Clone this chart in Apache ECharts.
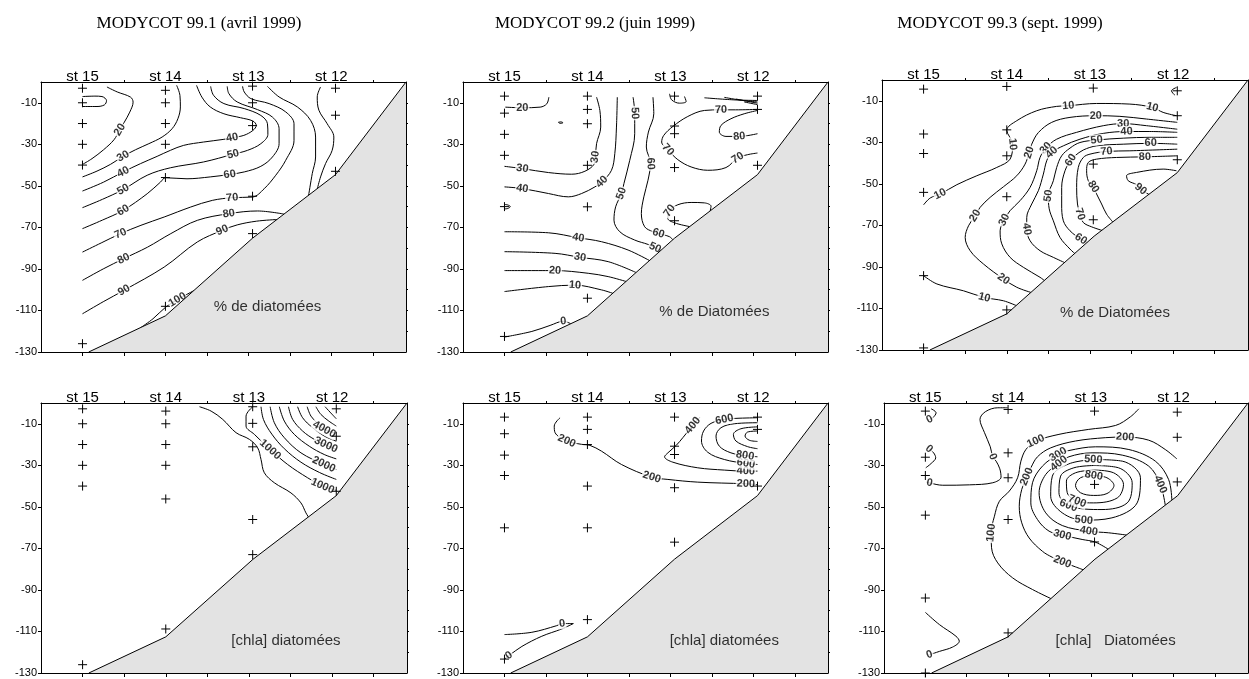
<!DOCTYPE html>
<html><head><meta charset="utf-8">
<script src="https://cdn.jsdelivr.net/npm/echarts@6/dist/echarts.min.js"></script>
<style>html,body{margin:0;padding:0;background:#fff}#c{width:1249px;height:679px}</style>
</head><body><div id="c"></div>
<script>
// ---- axes / labels ----
const xMin = 0, xMax = 8.8, yMin = -130, yMax = 0;
const stationNames = ['st 15', 'st 14', 'st 13', 'st 12'];
const stationX = [1, 3, 5, 7];
const xTickValues = [1, 2, 3, 4, 5, 6, 7, 8];
const xTopTickValues = [2, 4, 6, 8];
const yTickValues = [-130, -110, -90, -70, -50, -30, -10];
const yMinorValues = [-120, -110, -100, -90, -80, -70, -60, -50, -40, -30, -20, -10];
const titles = ['MODYCOT 99.1 (avril 1999)', 'MODYCOT 99.2 (juin 1999)', 'MODYCOT 99.3 (sept. 1999)'];
const panelNotes = ['% de diatomées', '% de Diatomées', '% de Diatomées', '[chla] diatomées', '[chla] diatomées', '[chla]   Diatomées'];

// ---- bottom profile (distance, depth) ----
const bottomX = [1.15, 3.0, 5.1, 7.1, 8.8];
const bottomY = [-130, -112.6, -75.2, -44.6, 0];

// ---- sampling points (distance, depth) ----
const samples1 = [[1,-3],[1,-10],[1,-20],[1,-30],[1,-40],[1,-126],[3,-4],[3,-10],[3,-20],[3,-30],[3,-46],[3,-108],[5.1,-2],[5.1,-10],[5.1,-21],[5.1,-55],[5.1,-73],[7.1,-3],[7.1,-16],[7.1,-43]];
const samples2 = [[1,-6.8],[1,-15],[1,-25.2],[1,-35.3],[1,-60],[1,-122.5],[3,-6.8],[3,-13.2],[3,-20.1],[3,-40.1],[3,-60.1],[3,-104.1],[5.1,-6.8],[5.1,-21.2],[5.1,-24.9],[5.1,-41.2],[5.1,-66.8],[7.1,-6.8],[7.1,-13.2],[7.1,-40.1]];
const samples3 = [[1,-4.4],[1,-26],[1,-35.4],[1,-54.1],[1,-94.2],[1,-129],[3,-3.1],[3,-24],[3,-36.5],[3,-56.2],[3,-110.7],[5.08,-3.9],[5.08,-40.5],[5.08,-67.3],[7.1,-5.2],[7.1,-17.2],[7.1,-38.4]];
const samples4 = [[1,-2.8],[1,-10],[1,-20],[1,-30],[1,-40],[1,-126],[3,-3.9],[3,-10],[3,-20],[3,-30],[3,-46.2],[3,-108.8],[5.09,-1.8],[5.09,-9.8],[5.09,-21.1],[5.09,-56.1],[5.09,-73],[7.1,-2.8],[7.1,-16],[7.1,-42.5]];
const samples5 = [[1,-6.8],[1,-14.8],[1,-25.1],[1,-34.9],[1,-60.1],[1,-123.3],[3,-6.8],[3,-12.7],[3,-20],[3,-40],[3,-60.1],[3,-104.3],[5.1,-6.8],[5.1,-20.8],[5.1,-24.8],[5.1,-40.8],[5.1,-67],[7.1,-6.8],[7.1,-12.7],[7.1,-40]];
const samples6 = [[1,-3.9],[1,-26.1],[1,-34.9],[1,-54],[1,-93.9],[1,-130],[3,-3.1],[3,-24],[3,-36],[3,-56.1],[3,-110.7],[5.09,-3.9],[5.09,-39.2],[5.09,-66.9],[7.09,-4.4],[7.09,-16.5],[7.09,-38]];

// ---- contour lines: [level, points (distance, depth), indices of labelled points] ----
const contours1 = [
  [10, [[1.0,-7],[1.3,-6.8],[1.47,-7],[1.58,-9],[1.53,-11],[1.35,-11.8],[1.0,-11.8]], []],
  [20, [[1.59,-2.4],[1.84,-4.8],[2.16,-7.3],[2.22,-9.7],[2.14,-14.5],[2.01,-19.3],[1.90,-23],[1.76,-27.8],[1.51,-32.6],[1.23,-36.9],[1.0,-39.7]], [6]],
  [30, [[3.27,-1.6],[3.35,-6.5],[3.36,-12],[3.30,-17.7],[3.16,-22.5],[2.92,-26.5],[2.60,-29.7],[2.28,-32.6],[1.98,-35.8],[1.68,-39.6],[1.35,-42.9],[1.0,-45.7]], [8]],
  [40, [[1.0,-52.5],[1.51,-48.2],[1.98,-43.3],[2.40,-39.3],[2.80,-35.8],[3.12,-32.9],[3.44,-30.5],[3.92,-28.9],[4.41,-27.6],[4.61,-26.8],[4.89,-25.7],[5.11,-23.3],[5.19,-20.9],[5.11,-18.8],[4.81,-17.2],[4.41,-15.3],[4.08,-12],[3.88,-7.3],[3.75,-1.6]], [2,9]],
  [50, [[1.0,-60.5],[1.48,-56.5],[1.98,-51.8],[2.56,-44.9],[3.12,-41.3],[3.92,-38.5],[4.63,-34.8],[4.98,-32.9],[5.30,-29.7],[5.47,-25.2],[5.46,-20.1],[5.30,-16.1],[4.90,-12.8],[4.41,-10.4],[4.16,-6.4],[4.09,-2.1]], [2,6]],
  [60, [[1.0,-70.6],[1.48,-66.5],[1.98,-61.8],[2.56,-53.8],[2.88,-48.2],[3.0,-46.1],[3.52,-46.6],[4.08,-45.7],[4.55,-44.5],[4.9,-43.3],[5.30,-40.6],[5.58,-36.1],[5.74,-29.7],[5.74,-22.5],[5.58,-16.9],[5.22,-13.3],[4.73,-9.6],[4.53,-5.6],[4.49,-2.1]], [2,8]],
  [70, [[1.0,-81.9],[1.45,-77.5],[1.92,-73],[2.41,-69],[2.97,-65],[3.61,-60.2],[4.13,-57],[4.61,-55.7],[5.10,-55.4],[5.38,-51.4],[5.66,-44.9],[5.90,-37.7],[6.10,-28.1],[6.10,-20.1],[5.90,-14.4],[5.50,-10.4],[5.06,-8],[4.9,-4.8],[4.86,-2.1]], [2,7]],
  [80, [[1.0,-95.5],[1.5,-90],[1.99,-85.1],[2.57,-79.5],[3.13,-73],[3.77,-66.6],[4.53,-63.4],[5.22,-62.1],[5.86,-63.6]], [2,6]],
  [80, [[5.46,-2.1],[5.74,-7.2],[6.18,-12],[6.50,-18.5],[6.62,-26.5],[6.62,-36.1],[6.54,-44.1],[6.45,-54.8]], []],
  [90, [[1.0,-111.6],[1.5,-105.8],[2.0,-100.3],[2.97,-89.1],[3.77,-77],[4.37,-71.4],[4.73,-68.8],[5.2,-67],[5.7,-66.2]], [2,5]],
  [100, [[2.41,-118.2],[2.7,-114],[3.0,-108.5],[3.29,-104.8],[3.69,-100.4]], [3]],
  [70, [[6.74,-2.4],[6.66,-7.2],[6.70,-13.6],[6.90,-20.1],[7.06,-26.5],[7.02,-32.9],[6.86,-39.3],[6.74,-45.7],[6.66,-51.6]], []]
];
const contours2 = [
  [20, [[1.02,-12.1],[1.43,-12.4],[1.86,-12.1],[2.02,-10.5],[2.07,-7.3]], [1]],
  [20, [[2.3,-19.4],[2.36,-19.2],[2.41,-19.6],[2.34,-19.9],[2.3,-19.4]], []],
  [30, [[1.0,-40.6],[1.43,-41.7],[2.06,-43.6],[2.62,-44.4],[2.94,-42.96],[3.16,-39.6],[3.19,-36.1],[3.22,-29.7],[3.32,-21.7],[3.3,-13.7],[3.22,-7.3]], [1,6]],
  [40, [[1.0,-50.5],[1.43,-51.3],[2.06,-53.7],[2.54,-55.3],[2.86,-53.7],[3.18,-50.5],[3.35,-48.1],[3.58,-42.5],[3.66,-34.5],[3.70,-21.7],[3.72,-7.3]], [1,6]],
  [50, [[4.1,-7.3],[4.14,-15],[4.14,-24.9],[4.02,-37.7],[3.88,-48.9],[3.82,-53.7],[3.68,-60.1],[3.64,-66.5],[3.78,-72.1],[4.14,-76.1],[4.46,-78.2],[4.63,-79.8],[4.8,-81.2]], [1,5,11]],
  [60, [[4.58,-7.3],[4.6,-15.3],[4.47,-24.1],[4.42,-31.3],[4.52,-39.3],[4.46,-47.3],[4.36,-55.3],[4.30,-63.3],[4.38,-69.7],[4.58,-72.1],[4.71,-72.9],[4.98,-74.5],[5.06,-76]], [4,10]],
  [70, [[7.1,-13.2],[6.57,-13.4],[6.22,-13.4],[5.82,-13.7],[5.42,-16.6],[5.06,-21.4],[4.84,-25.7],[4.79,-28.9],[4.94,-32.6],[5.18,-37.4],[5.50,-40.9],[5.90,-42.5],[6.34,-41.2],[6.62,-36.6],[6.86,-35],[7.1,-34.2]], [2,8,13]],
  [80, [[7.1,-24.9],[6.66,-26.2],[6.34,-26.2],[6.18,-24.1],[6.22,-20.9],[6.46,-17.7],[6.78,-15.3],[7.1,-13.7]], [1]],
  [70, [[5.46,-69.6],[5.1,-67.8],[4.94,-65.7],[4.98,-62],[5.18,-59.1],[5.5,-58],[5.82,-58.2],[5.98,-59.8],[5.96,-62]], [3]],
  [40, [[1.0,-72.1],[2.06,-72.6],[2.78,-75],[3.34,-76.9],[3.98,-80.9],[4.5,-86]], [2]],
  [30, [[1.0,-81.7],[2.22,-82.5],[2.82,-84.4],[3.5,-86.5],[4.18,-91.8]], [2]],
  [20, [[1.0,-90.8],[2.06,-90.8],[2.22,-90.8],[3.02,-92.1],[3.5,-93.7],[3.94,-96.1]], [2]],
  [10, [[1.0,-100.9],[2.06,-98.5],[2.70,-97.8],[3.34,-100.1],[3.62,-101.8]], [2]],
  [0, [[1.0,-122.8],[1.66,-120.1],[2.1,-117.2],[2.42,-115.2],[2.6,-116.4]], [3]],
  [40, [[1.0,-59],[1.08,-59.2],[1.14,-60],[1.08,-60.9],[1.0,-61.1]], []],
  [70, [[4.98,-5.7],[5.03,-8.6],[5.22,-10.2],[5.38,-9.4],[5.34,-7]], []],
  [80, [[5.82,-7.6],[6.53,-8.6],[7.1,-8.9]], []],
  [90, [[6.3,-7.4],[6.78,-9.0],[7.1,-9.6]], []],
  [90, [[6.58,-8.2],[7.1,-10.2]], []],
  [90, [[6.78,-9.6],[7.1,-10.9]], []]
];
const contours3 = [
  [10, [[7.08,-17.2],[6.76,-15.6],[6.5,-13.2],[5.96,-11.6],[5.16,-11.3],[4.48,-12.4],[4.2,-12.7],[3.72,-14.8],[3.24,-19.6],[3.0,-24.2],[3.14,-30.9],[3.08,-38.1],[2.76,-42.1],[2.28,-46.1],[1.8,-50.4],[1.4,-54.9],[1.16,-56.8],[1.0,-60.1]], [2,5,10,15]],
  [10, [[1.0,-94.2],[1.32,-98.2],[1.96,-101.5],[2.46,-104.7],[2.92,-106.3],[3.25,-108.8]], [3]],
  [20, [[7.1,-20.4],[6.36,-18.8],[5.72,-17.5],[5.14,-17.2],[4.52,-18],[4.08,-20.4],[3.76,-25.3],[3.6,-30.9],[3.54,-34.9],[3.44,-40.5],[3.24,-46.1],[2.92,-51.4],[2.6,-56.5],[2.36,-61.3],[2.24,-65.3],[2.08,-70.2],[2.0,-75.8],[2.12,-82.2],[2.44,-88.6],[2.92,-95.8],[3.24,-99.8],[3.6,-102.4]], [3,8,14,19]],
  [30, [[7.1,-23.7],[6.36,-22],[5.8,-21],[5.32,-22],[4.68,-25.2],[4.2,-28.5],[3.94,-32.8],[3.8,-37.3],[3.72,-43.7],[3.56,-51.7],[3.32,-58.1],[3.08,-62.9],[2.94,-67.4],[2.84,-72.6],[2.88,-78.9],[3.08,-85.4],[3.4,-90.2],[3.8,-95],[3.92,-96.8]], [2,6,12]],
  [40, [[7.1,-25.2],[6.44,-24.8],[5.88,-24.8],[5.32,-25.7],[4.76,-28.5],[4.36,-31.7],[4.08,-34.9],[3.96,-38.9],[3.88,-45.3],[3.76,-53.3],[3.6,-59.7],[3.48,-66.2],[3.48,-71.8],[3.56,-77.4],[3.8,-82.2],[4.12,-85.4],[4.4,-88]], [2,6,12]],
  [50, [[7.1,-27.6],[6.44,-27.6],[5.8,-28],[5.16,-28.9],[4.76,-30.1],[4.52,-32.8],[4.32,-36.5],[4.2,-42.1],[4.12,-48.5],[4.0,-55.7],[4.02,-62],[4.12,-67.8],[4.28,-75.8],[4.52,-81.4],[4.66,-84]], [3,9]],
  [60, [[7.1,-30.9],[6.46,-30.5],[5.8,-30.9],[5.16,-31.7],[4.84,-33.7],[4.64,-36.5],[4.54,-38.6],[4.4,-43.7],[4.32,-51.7],[4.32,-59.7],[4.36,-67.8],[4.52,-72.6],[4.78,-76.6],[4.96,-78.4]], [1,6,12]],
  [70, [[7.1,-33.3],[5.96,-34.1],[5.4,-34.4],[5.0,-35.7],[4.84,-37.3],[4.72,-42.1],[4.68,-51.7],[4.7,-59.7],[4.76,-64.6],[4.84,-68.6],[5.04,-70.7],[5.32,-72.6]], [2,8]],
  [80, [[7.1,-36.5],[6.32,-37],[5.64,-37.3],[5.16,-38.1],[4.96,-39.7],[4.92,-43.7],[4.96,-48.5],[5.08,-51.4],[5.16,-54.9],[5.28,-59.7],[5.4,-64.6],[5.56,-68.6]], [1,7]],
  [90, [[7.08,-43.7],[6.76,-42.9],[6.12,-44.5],[5.88,-46.1],[5.92,-48.5],[6.12,-50.4],[6.22,-52.5],[6.45,-55.5]], [6]],
  [0, [[7.08,-3.6],[6.96,-5.2],[7.04,-7.3]], []]
];
const contours4 = [
  [500, [[3.81,-1.8],[4.09,-3.9],[4.37,-7.9],[4.69,-14.3],[5.01,-17.5],[5.21,-21.6],[5.29,-27.2],[5.37,-33.6],[5.61,-38.4],[6.01,-43.3],[6.25,-48.1],[6.37,-52.9],[6.45,-55.5]], []],
  [1000, [[5.09,-1.8],[4.93,-6.3],[4.93,-11.1],[5.13,-15.1],[5.51,-22.4],[5.93,-29.6],[6.41,-36.0],[6.77,-40.0],[7.1,-42.0]], [4,7]],
  [1500, [[5.29,-1.8],[5.35,-8],[5.55,-15],[5.85,-22],[6.25,-28.5],[6.7,-33.5],[7.1,-36.8]], []],
  [2000, [[5.51,-1.8],[5.61,-9.5],[5.85,-16.7],[6.25,-24],[6.8,-29.6],[7.1,-32]], [4]],
  [2500, [[5.73,-1.8],[5.85,-8.7],[6.09,-15.1],[6.45,-20.8],[6.81,-24.8],[7.1,-26.9]], []],
  [3000, [[5.95,-1.8],[6.05,-7.9],[6.29,-13.5],[6.57,-17.5],[6.85,-20.2],[7.1,-22.4]], [4]],
  [3500, [[6.17,-1.8],[6.29,-7.1],[6.53,-11.9],[6.81,-15.9],[7.1,-18.4]], []],
  [4000, [[6.4,-1.8],[6.49,-6.3],[6.65,-9.8],[6.81,-12.7],[7.1,-14.7]], [3]],
  [4500, [[6.61,-1.8],[6.73,-5.5],[6.92,-8.7],[7.1,-11.1]], []],
  [5000, [[6.83,-1.8],[6.95,-4.4],[7.1,-7.6]], []]
];
const contours5 = [
  [200, [[2.34,-7.1],[2.2,-11.1],[2.22,-14.3],[2.5,-18.3],[2.86,-19.9],[3.06,-20.4],[3.34,-23.2],[3.82,-29.6],[4.55,-35.7],[4.94,-36.8],[5.66,-38.1],[6.82,-38.9],[7.1,-39.3]], [3,8,11]],
  [400, [[5.7,-7.1],[5.54,-10.8],[5.3,-16.7],[5.14,-20.4],[4.94,-24],[4.86,-25.9],[5.06,-28.5],[5.66,-31.2],[6.3,-32.3],[6.82,-32.8],[7.1,-32.8]], [1,9]],
  [600, [[7.1,-7.1],[6.58,-7.4],[6.3,-7.9],[5.98,-9.8],[5.8,-13.5],[5.75,-18.3],[5.9,-23.7],[6.3,-27.2],[6.82,-29.1],[7.1,-29.6]], [2,8]],
  [800, [[7.1,-9.5],[6.54,-10],[6.22,-11.9],[6.1,-15.9],[6.18,-20.8],[6.46,-24],[6.8,-25.3],[7.1,-25.9]], [6]],
  [1000, [[7.1,-11.5],[6.7,-12.4],[6.52,-15.1],[6.58,-18.3],[6.86,-21],[7.1,-22]], []],
  [1200, [[7.1,-13.5],[6.86,-14],[6.8,-15.9],[6.9,-17.9],[7.1,-18.5]], []],
  [0, [[1.0,-111.5],[1.66,-110.4],[2.26,-107.2],[2.39,-106.2],[2.66,-106.2],[2.38,-108.8],[1.9,-112.3],[1.42,-117.2],[1.11,-121.6],[1.0,-123.3]], [3,8]]
];
const contours6 = [
  [0, [[1.14,-2.8],[1.26,-4.7],[1.18,-7.1],[1.1,-7.9]], [3]],
  [0, [[1.09,-22.1],[1.2,-24],[1.25,-26.4],[1.14,-29.1],[1.01,-31.2]], [0]],
  [0, [[1.02,-38.1],[1.1,-38.5],[1.42,-39.6],[2.07,-39.4],[2.63,-38.4],[2.83,-35.7],[2.8,-31.7],[2.71,-28],[2.63,-25.9],[2.57,-21.1],[2.43,-14.3],[2.32,-7.9],[2.45,-4.2],[2.75,-2.3],[2.99,-2.3]], [1,8]],
  [0, [[1.0,-100.8],[1.34,-106.7],[1.74,-112.3],[1.82,-114.7],[1.66,-117.5],[1.34,-119.6],[1.1,-121.2]], [6]],
  [100, [[6.16,-2.8],[5.96,-6.6],[5.6,-10.8],[4.95,-12.7],[4.23,-15.1],[3.67,-18.4],[3.43,-22.4],[3.31,-28],[3.23,-36],[3.03,-42.4],[2.79,-47.3],[2.67,-54.5],[2.59,-62.5],[2.6,-69.7],[2.75,-77],[3.11,-84.2],[3.59,-89.8],[4.07,-94.5]], [5,12]],
  [200, [[7.08,-26.9],[6.8,-22.4],[6.4,-17.9],[5.83,-16.4],[5.35,-16.7],[4.63,-18.3],[4.03,-21.6],[3.71,-25.9],[3.55,-31.2],[3.45,-35.5],[3.33,-41.6],[3.27,-49.7],[3.33,-57.7],[3.51,-65],[3.83,-71.4],[4.07,-74.3],[4.31,-76.5],[4.63,-78.9],[4.83,-80.4]], [3,9,16]],
  [300, [[6.96,-46.9],[6.88,-36.8],[6.56,-28],[5.92,-22.4],[5.11,-21.1],[4.47,-22.9],[4.21,-24.8],[3.83,-30.4],[3.59,-38.4],[3.55,-48.1],[3.71,-56.1],[3.99,-61.7],[4.31,-63.6],[4.79,-65.7],[5.11,-67],[5.43,-70.5]], [6,12]],
  [400, [[6.8,-49.2],[6.68,-39.2],[6.4,-30.4],[5.76,-25.1],[5.03,-24],[4.47,-25.9],[4.23,-29.1],[3.91,-34.4],[3.75,-43.2],[3.91,-52.9],[4.31,-59],[4.95,-61.7],[5.43,-62.5],[5.87,-63.6]], [1,6,11]],
  [500, [[5.06,-27.2],[5.76,-28],[6.2,-36],[6.12,-48.1],[5.51,-55.3],[4.83,-56.4],[4.31,-52.9],[4.03,-44.9],[4.07,-35.2],[4.47,-29.3],[5.06,-27.2]], [0,5]],
  [600, [[5.07,-30.1],[5.67,-31.2],[6.0,-38.4],[5.88,-48.1],[5.27,-51.3],[4.46,-49.4],[4.23,-43.2],[4.27,-35.2],[4.59,-31.2],[5.07,-30.1]], [5]],
  [700, [[5.07,-32.3],[5.55,-33.6],[5.79,-39.2],[5.64,-45.7],[5.07,-48.1],[4.67,-47.3],[4.43,-43.2],[4.41,-37.6],[4.63,-33.6],[5.07,-32.3]], [5]],
  [800, [[5.07,-34.9],[5.39,-36],[5.56,-39.7],[5.39,-43.6],[5.07,-44.5],[4.75,-43.2],[4.63,-39.7],[4.75,-36],[5.07,-34.9]], [0]]
];

const allContours = [contours1, contours2, contours3, contours4, contours5, contours6];
const allSamples = [samples1, samples2, samples3, samples4, samples5, samples6];
const notePos = [[5.46,-108.3],[6.06,-110.5],[5.6,-111.9],[5.89,-114.3],[6.3,-114.3],[5.6,-114.3]];

// ---- layout ----
const gridRects = [
  {left: 41, top: 82, width: 365, height: 270},
  {left: 463, top: 82, width: 365, height: 270},
  {left: 882, top: 80, width: 366, height: 270},
  {left: 41, top: 403, width: 366, height: 270},
  {left: 463, top: 403, width: 365, height: 270},
  {left: 884, top: 403, width: 364, height: 270}
];
const titleCenters = [194, 590, 995];
const SANS = 'Liberation Sans, Arial, sans-serif';
const BLACK = '#000';

const chart = echarts.init(document.getElementById('c'), null, {renderer: 'canvas'});

function plusItem(params, api) {
  const c = api.coord([api.value(0), api.value(1)]);
  const h = 4.5;
  return {type: 'group', children: [
    {type: 'line', shape: {x1: c[0] - h, y1: c[1], x2: c[0] + h, y2: c[1]}, style: {stroke: BLACK, lineWidth: 1}},
    {type: 'line', shape: {x1: c[0], y1: c[1] - h, x2: c[0], y2: c[1] + h}, style: {stroke: BLACK, lineWidth: 1}}
  ]};
}

const option = {
  animation: false,
  backgroundColor: '#fff',
  title: titles.map((t, i) => ({
    text: t, left: titleCenters[i], top: 10, textAlign: 'center',
    textStyle: {fontFamily: 'Liberation Serif, Times New Roman, serif', fontSize: 17, fontWeight: 'normal', color: BLACK}
  })),
  grid: gridRects.map(r => Object.assign({containLabel: false}, r)),
  xAxis: [], yAxis: [], series: []
};

gridRects.forEach((r, gi) => {
  const lineS = {show: true, onZero: false, lineStyle: {color: BLACK, width: 1}};
  option.xAxis.push({gridIndex: gi, type: 'value', min: xMin, max: xMax, position: 'bottom',
    axisLine: lineS, axisTick: {show: true, customValues: xTickValues, length: 4, lineStyle: {color: BLACK}},
    axisLabel: {show: false}, splitLine: {show: false}});
  option.xAxis.push({gridIndex: gi, type: 'value', min: xMin, max: xMax, position: 'top',
    axisLine: lineS, axisTick: {show: true, customValues: xTopTickValues, length: 2, lineStyle: {color: BLACK}},
    axisLabel: {show: true, customValues: stationX, formatter: v => stationNames[stationX.indexOf(v)] || '',
      fontSize: 15, fontFamily: SANS, color: BLACK, margin: -2},
    splitLine: {show: false}});
  option.yAxis.push({gridIndex: gi, type: 'value', min: yMin, max: yMax, position: 'left',
    axisLine: lineS, axisTick: {show: true, customValues: yTickValues, length: 3, lineStyle: {color: BLACK}},
    axisLabel: {show: true, customValues: yTickValues, fontSize: 11, fontFamily: SANS, color: BLACK, margin: 4},
    splitLine: {show: false}});
  option.yAxis.push({gridIndex: gi, type: 'value', min: yMin, max: yMax, position: 'right',
    axisLine: lineS, axisTick: {show: true, customValues: yMinorValues, length: 2, lineStyle: {color: BLACK}},
    axisLabel: {show: false}, splitLine: {show: false}});

  const xi = 2 * gi, yi = 2 * gi;
  allContours[gi].forEach(c => {
    option.series.push({type: 'line', xAxisIndex: xi, yAxisIndex: yi, data: c[1], symbol: 'none',
      smooth: 0.35, lineStyle: {color: BLACK, width: 1}, z: 2, silent: true});
  });
  option.series.push({id: 'lab' + gi, type: 'scatter', xAxisIndex: xi, yAxisIndex: yi, data: [],
    symbolSize: 1, itemStyle: {color: 'rgba(0,0,0,0)'}, silent: true, z: 3,
    label: {show: true, position: 'inside', formatter: '{b}', fontSize: 11, fontWeight: 'bold',
      fontFamily: SANS, color: BLACK, backgroundColor: '#fff', padding: [0, 1]}});
  option.series.push({type: 'line', xAxisIndex: xi, yAxisIndex: yi,
    data: bottomX.map((x, i) => [x, bottomY[i]]), symbol: 'none',
    lineStyle: {color: BLACK, width: 1}, areaStyle: {color: '#e3e3e3', opacity: 1, origin: 'start'},
    z: 4, silent: true});
  option.series.push({type: 'custom', xAxisIndex: xi, yAxisIndex: yi, data: allSamples[gi],
    renderItem: plusItem, z: 5, silent: true});
  option.series.push({type: 'scatter', xAxisIndex: xi, yAxisIndex: yi,
    data: [{value: notePos[gi], name: panelNotes[gi]}], symbolSize: 1, itemStyle: {color: 'rgba(0,0,0,0)'},
    silent: true, z: 6,
    label: {show: true, position: 'inside', formatter: '{b}', fontSize: 15, fontFamily: SANS, color: BLACK}});
});

chart.setOption(option);

// rotate the contour labels along their line, using the chart's own pixel mapping
const labelUpdates = gridRects.map((r, gi) => {
  const items = [];
  allContours[gi].forEach(([lv, pts, labs]) => {
    labs.forEach(i => {
      const a = pts[Math.max(0, i - 1)], b = pts[Math.min(pts.length - 1, i + 1)];
      const pa = chart.convertToPixel({gridIndex: gi}, a);
      const pb = chart.convertToPixel({gridIndex: gi}, b);
      let ang = -Math.atan2(pb[1] - pa[1], pb[0] - pa[0]) * 180 / Math.PI;
      if (ang > 90) ang -= 180;
      if (ang < -90) ang += 180;
      items.push({value: pts[i], name: String(lv), label: {rotate: ang}});
    });
  });
  return {id: 'lab' + gi, data: items};
});
chart.setOption({series: labelUpdates});
</script></body></html>
